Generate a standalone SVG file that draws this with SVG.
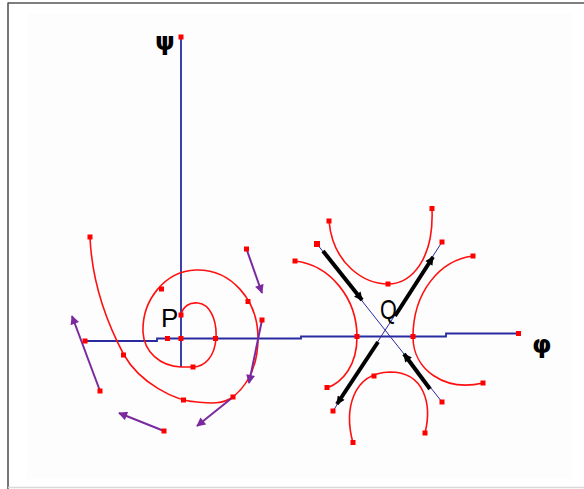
<svg xmlns="http://www.w3.org/2000/svg" width="584" height="489" viewBox="0 0 584 489">
<defs>
<style>
.axis{fill:none;stroke:#2a2aa0;stroke-width:1.8}
.diag{fill:none;stroke:#2a2aa0;stroke-width:1}
.traj{fill:none;stroke:#ff1010;stroke-width:1.6}
.flow{fill:none;stroke:#7a2a9e;stroke-width:2;marker-end:url(#pHead)}
.sep{fill:none;stroke:#000;stroke-width:4;marker-end:url(#bHead)}
.dot{fill:#ff0000}
.lbl{font-family:"Liberation Sans",Arial,sans-serif;fill:#000}
.greek{font-family:"DejaVu Sans",sans-serif;font-weight:bold;fill:#000}
</style>
<marker id="pHead" viewBox="0 0 10 10" refX="9" refY="5" markerWidth="5" markerHeight="4.5" orient="auto" markerUnits="strokeWidth">
<path d="M0,0 L10,5 L0,10 z" fill="#7a2a9e"/>
</marker>
<marker id="bHead" viewBox="0 0 10 10" refX="9" refY="5" markerWidth="3.2" markerHeight="2.1" orient="auto" markerUnits="strokeWidth">
<path d="M0,0 L10,5 L0,10 z" fill="#000"/>
</marker>
</defs>
<rect x="0" y="0" width="584" height="489" fill="#ffffff"/>
<rect x="27" y="13" width="545" height="466" fill="#fdfdfd"/>
<g id="frame">
<line x1="8" y1="2.5" x2="8" y2="489" stroke="#555" stroke-width="1.6"/>
<line x1="8" y1="3" x2="584" y2="3" stroke="#555" stroke-width="1.6"/>
<line x1="8" y1="487.5" x2="584" y2="487.5" stroke="#d8d8d8" stroke-width="1.5"/>
</g>
<g id="axes">
<line class="axis" x1="181" y1="37" x2="181" y2="367"/>
<polyline class="axis" points="85,341 157,341 157,338.5 301,338.5 301,336.5 446,336.5 446,333.5 518,333.5"/>
<line class="diag" x1="317" y1="244" x2="442" y2="402"/>
<line class="diag" x1="442" y1="242" x2="333" y2="411"/>
</g>
<g id="spiral">
<path class="traj" d="M181,315 C183,306 190,302 198,303 C210,304 217,320 216,338 C215,356 205,367 193,367 L181,367 C160,366 144,352 143,332 C142,300 165,271 196,270 C231,269 258,300 258,338 C258,362 250,383 233,397 C222,405 208,403 197,402 C175,401 140,383 124,355 C108,325 92,285 90,237"/>
</g>
<g id="saddle">
<path class="traj" d="M329,221 C333,265 365,284 388,284 C411,284 434,260 432,209"/>
<path class="traj" d="M295,261 C330,265 357,298 357,337 C357,365 343,382 327,388"/>
<path class="traj" d="M473,256 C440,260 413,292 413,337 C413,370 445,392 483,383"/>
<path class="traj" d="M353,443 C344,410 352,373 390,372 C425,372 432,405 425,433"/>
</g>
<g id="connectors">
<line class="flow" x1="246.5" y1="249" x2="262" y2="293"/>
<line class="flow" x1="262" y1="320" x2="249" y2="383"/>
<line class="flow" x1="232.5" y1="397.5" x2="197" y2="426"/>
<line class="flow" x1="164" y1="431" x2="119" y2="413"/>
<line class="flow" x1="100" y1="391" x2="72" y2="316"/>
<line class="sep" x1="323" y1="251" x2="362" y2="300"/>
<line class="sep" x1="395" y1="316" x2="433" y2="257"/>
<line class="sep" x1="378" y1="342" x2="337" y2="404"/>
<line class="sep" x1="430" y1="389" x2="404" y2="354"/>
</g>
<g id="dots">
<rect class="dot" x="178.5" y="34.5" width="5" height="5"/>
<rect class="dot" x="82.5" y="338.5" width="5" height="5"/>
<rect class="dot" x="165" y="336" width="5" height="5"/>
<rect class="dot" x="178.5" y="336" width="5" height="5"/>
<rect class="dot" x="213" y="336" width="5" height="5"/>
<rect class="dot" x="178.5" y="312.5" width="5" height="5"/>
<rect class="dot" x="190.5" y="364.5" width="5" height="5"/>
<rect class="dot" x="159" y="286.5" width="5" height="5"/>
<rect class="dot" x="245.5" y="299" width="5" height="5"/>
<rect class="dot" x="230.5" y="394.5" width="5" height="5"/>
<rect class="dot" x="181" y="397.5" width="5" height="5"/>
<rect class="dot" x="121" y="352.5" width="5" height="5"/>
<rect class="dot" x="87.5" y="234.5" width="5" height="5"/>
<rect class="dot" x="244" y="246.5" width="5" height="5"/>
<rect class="dot" x="259.5" y="317.5" width="5" height="5"/>
<rect class="dot" x="161.5" y="428.5" width="5" height="5"/>
<rect class="dot" x="97.5" y="388.5" width="5" height="5"/>
<rect class="dot" x="516" y="331" width="5" height="5"/>
<rect class="dot" x="326.5" y="218.5" width="5" height="5"/>
<rect class="dot" x="385.5" y="281.5" width="5" height="5"/>
<rect class="dot" x="429.5" y="206" width="5" height="5"/>
<rect class="dot" x="292.5" y="258.5" width="5" height="5"/>
<rect class="dot" x="354.5" y="334" width="5" height="5"/>
<rect class="dot" x="324.5" y="385" width="5" height="5"/>
<rect class="dot" x="470.5" y="253.5" width="5" height="5"/>
<rect class="dot" x="410.5" y="334" width="5" height="5"/>
<rect class="dot" x="480.5" y="380.5" width="5" height="5"/>
<rect class="dot" x="371.5" y="373.5" width="5" height="5"/>
<rect class="dot" x="350.5" y="440" width="5" height="5"/>
<rect class="dot" x="422.5" y="430.5" width="5" height="5"/>
<rect class="dot" x="314" y="241" width="6" height="6"/>
<rect class="dot" x="439.5" y="239.5" width="5" height="5"/>
<rect class="dot" x="439.5" y="399.5" width="5" height="5"/>
<rect class="dot" x="330.5" y="408.5" width="5" height="5"/>
</g>
<g id="labels">
<text class="greek" x="155" y="50" font-size="25">ψ</text>
<text class="greek" x="532" y="353" font-size="25">φ</text>
<text class="lbl" x="161" y="327" font-size="26">P</text>
<text class="lbl" font-size="27" transform="translate(380,319) scale(0.8,1)">Q</text>
</g>
</svg>
